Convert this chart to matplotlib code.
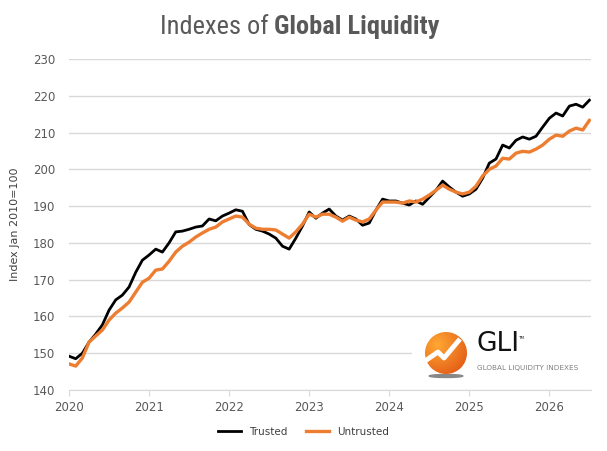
import numpy as np
import matplotlib.pyplot as plt
from matplotlib import font_manager
from matplotlib.patches import Circle, Ellipse

# monthly index values, Jan 2020 .. Jul 2026
trusted = [149.2, 148.5, 150.0, 153.0, 155.2, 157.7, 161.7, 164.5, 165.8, 168.0, 172.0, 175.3,
           176.7, 178.3, 177.5, 180.0, 183.0, 183.2, 183.7, 184.3, 184.6, 186.5, 186.0, 187.3,
           188.1, 189.0, 188.6, 185.0, 183.7, 183.2, 182.4, 181.3, 179.1, 178.3, 181.3, 184.6,
           188.4, 186.7, 188.1, 189.2, 187.3, 186.2, 187.3, 186.5, 184.8, 185.4, 188.9, 191.9,
           191.4, 191.4, 190.8, 190.3, 191.4, 190.5, 192.4, 194.3, 196.8, 195.2, 193.8, 192.7,
           193.3, 194.6, 197.6, 201.7, 202.8, 206.6, 205.8, 207.9, 208.8, 208.2, 209.0, 211.5,
           213.9, 215.3, 214.5, 217.2, 217.7, 216.9, 218.8]
untrusted = [147.1, 146.5, 148.7, 153.0, 154.7, 156.3, 159.0, 160.9, 162.3, 163.9, 166.6, 169.3,
             170.4, 172.6, 172.9, 175.0, 177.5, 179.1, 180.2, 181.6, 182.7, 183.7, 184.3, 185.7,
             186.5, 187.3, 187.0, 185.1, 184.0, 183.7, 183.7, 183.5, 182.4, 181.3, 183.0, 185.1,
             187.8, 187.0, 187.8, 187.8, 187.0, 185.9, 187.0, 186.2, 185.7, 186.5, 188.9, 191.1,
             191.1, 191.1, 190.8, 191.4, 191.1, 191.9, 193.0, 194.3, 195.7, 194.6, 193.8, 193.3,
             193.8, 195.4, 198.2, 200.0, 200.9, 203.0, 202.8, 204.4, 204.9, 204.7, 205.5, 206.6,
             208.2, 209.3, 209.0, 210.4, 211.2, 210.7, 213.3]
years = [2020, 2021, 2022, 2023, 2024, 2025, 2026]

x = 2020 + np.arange(len(trusted)) / 12.0

# pick a narrow font for the title if one is around
names = sorted({f.name for f in font_manager.fontManager.ttflist})
title_font = "DejaVu Sans"
for cand in ["Liberation Sans Narrow", "Roboto Condensed", "Open Sans Condensed",
             "DejaVu Sans Condensed", "Noto Sans Condensed"]:
    if cand in names:
        title_font = cand
        break
stretch = "condensed" if title_font == "DejaVu Sans" else "normal"

fig = plt.figure(figsize=(6.07, 4.51), dpi=100)
ax = fig.add_axes([69 / 607, 1 - 390 / 451, 522 / 607, 331 / 451])

ax.plot(x, trusted, color="#000000", lw=2.0, label="Trusted", solid_joinstyle="round")
ax.plot(x, untrusted, color="#ED7D31", lw=2.4, label="Untrusted", solid_joinstyle="round")

ax.set_xlim(2020, 2026.52)
ax.set_ylim(140, 230)
ax.set_yticks(range(140, 231, 10))
ax.set_xticks(years)
ax.set_xticklabels([str(y) for y in years])
ax.grid(True, axis="y", color="#d9d9d9", lw=1.0)
ax.set_axisbelow(True)
for s in ["top", "right", "left"]:
    ax.spines[s].set_visible(False)
ax.spines["bottom"].set_color("#d9d9d9")
ax.tick_params(axis="y", length=0, labelsize=8.5, labelcolor="#595959", pad=10)
ax.tick_params(axis="x", length=4, color="#d9d9d9", labelsize=8.5, labelcolor="#595959", pad=4)
ax.set_ylabel("Index Jan 2010=100", fontsize=8, color="#404040", labelpad=9)

fig.text(0.452, 0.94, "Indexes of ", ha="right", va="center", fontsize=19,
         color="#595959", family=title_font, stretch=stretch)
fig.text(0.452, 0.94, "Global Liquidity", ha="left", va="center", fontsize=19,
         color="#595959", family=title_font, stretch=stretch, weight="bold")

leg = fig.legend(loc="center", bbox_to_anchor=(0.5, 1 - 432 / 451), ncol=2, frameon=False,
                 fontsize=7.5, handlelength=2.2, columnspacing=1.8)
for t in leg.get_texts():
    t.set_color("#404040")

# logo box
lax = fig.add_axes([412 / 607, 1 - 388 / 451, 180 / 607, 60 / 451])
lax.set_xlim(0, 180)
lax.set_ylim(60, 0)
lax.set_facecolor("white")
lax.axis("off")
lax.add_patch(plt.Rectangle((0, 0), 180, 60, color="white", zorder=0))
cx, cy, r = 34, 25, 21
yy, xx = np.mgrid[0:1:200j, 0:1:200j]
dist = np.sqrt((xx - 0.3) ** 2 + (yy - 0.3) ** 2)
grad = np.clip(dist / 0.9, 0, 1)
c1 = np.array([1.0, 0.66, 0.2])
c2 = np.array([0.88, 0.33, 0.08])
img = c1[None, None, :] * (1 - grad[..., None]) + c2[None, None, :] * grad[..., None]
im = lax.imshow(img, extent=(cx - r, cx + r, cy + r, cy - r), zorder=2)
clip = Circle((cx, cy), r, transform=lax.transData)
im.set_clip_path(clip)
lax.add_patch(Ellipse((cx, cy + r + 2), 2 * r * 0.8, 3, color="#888888", zorder=1))
lax.plot([cx - r, cx - 8, cx - 2, cx + 14], [cy + 8, cy - 1, cy + 5, cy - 14], color="white",
         lw=3.5, zorder=3, solid_capstyle="butt")
lax.text(64, 29, "GLI", fontsize=19, color="#111111", ha="left", va="bottom", family="DejaVu Sans")
lax.text(106, 12, "TM", fontsize=3, color="#111111", ha="left", va="bottom")
lax.text(65, 40, "GLOBAL LIQUIDITY INDEXES", fontsize=5.2, color="#808080", ha="left", va="center")

fig.savefig("out.png", dpi=100)
